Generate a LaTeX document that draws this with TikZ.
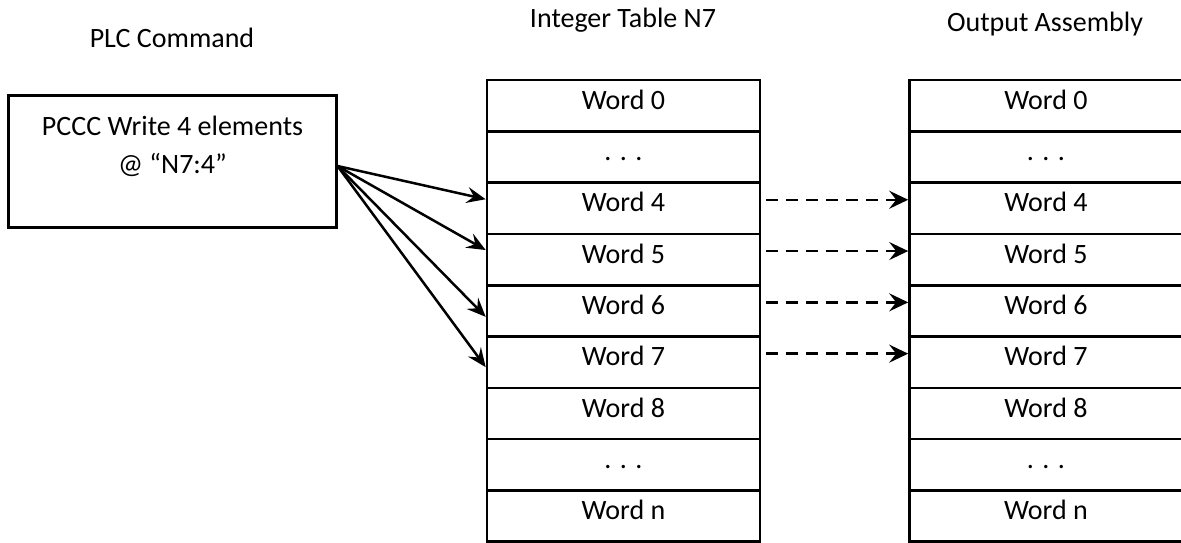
\documentclass[tikz,border=0pt]{standalone}
\usepackage{fontspec}
\setmainfont{Carlito}
\usetikzlibrary{arrows.meta,calc}
\tikzset{
  txtfont/.style={font=\fontsize{28}{38}\selectfont},
  cell/.style={draw, line width=2.6pt, minimum width=273pt, minimum height=51.3pt,
    inner sep=0pt, text height=14pt, text depth=6.6pt, txtfont},
  hdr/.style={inner sep=0pt, anchor=base, txtfont},
  plcbox/.style={draw, line width=3pt, minimum width=328pt, minimum height=132pt, inner sep=0pt},
  feed/.style={-{Stealth[length=19pt,width=16pt,inset=7pt]}, line width=2.5pt},
  copyarrow/.style={-{Stealth[length=19pt,width=18pt,inset=7pt]}, line width=2.5pt, dash pattern=on 12pt off 8pt}
}
\begin{document}
\begin{tikzpicture}[x=1pt,y=-1pt]
\useasboundingbox (0,0) rectangle (1181,542);
\clip (0,0) rectangle (1181,542);
\fill[white] (0,0) rectangle (1181,542);

% headers
\node[hdr] (h1) at (172,47.5) {PLC Command};
\node[hdr] (h2) at (623,27) {Integer Table N7};
\node[hdr] (h3) at (1045,31) {Output Assembly};

% PLC command box
\node[plcbox] (plc) at (172,161) {};
\node[hdr, align=center] (plctxt) at (172.5,173) {PCCC Write 4 elements\\@ “N7:4”};

% tables
\foreach \i/\t in {0/Word 0,1/{. . .},2/Word 4,3/Word 5,4/Word 6,5/Word 7,6/Word 8,7/{. . .},8/Word n}{
  \node[cell] (m\i) at (623.5,{80+51.3*(\i+0.5)}) {\t};
  \node[cell] (o\i) at (1046,{80+51.3*(\i+0.5)}) {\t};
}

% solid arrows from PLC command
\draw[feed] ([yshift=-5pt]plc.east) -- ([yshift=9pt]m2.west);
\draw[feed] ([yshift=-5pt]plc.east) -- ([yshift=9.5pt]m3.west);
\draw[feed] ([yshift=-5pt]plc.east) -- ([yshift=-6pt]m4.west);
\draw[feed] ([yshift=-5pt]plc.east) -- ([yshift=-5pt]m5.west);

% dashed copy arrows
\foreach \i in {2,3,4,5}{
  \draw[copyarrow] ([xshift=5pt,yshift=8.5pt]m\i.east) -- ([yshift=8.5pt]o\i.west);
}
\end{tikzpicture}
\end{document}
